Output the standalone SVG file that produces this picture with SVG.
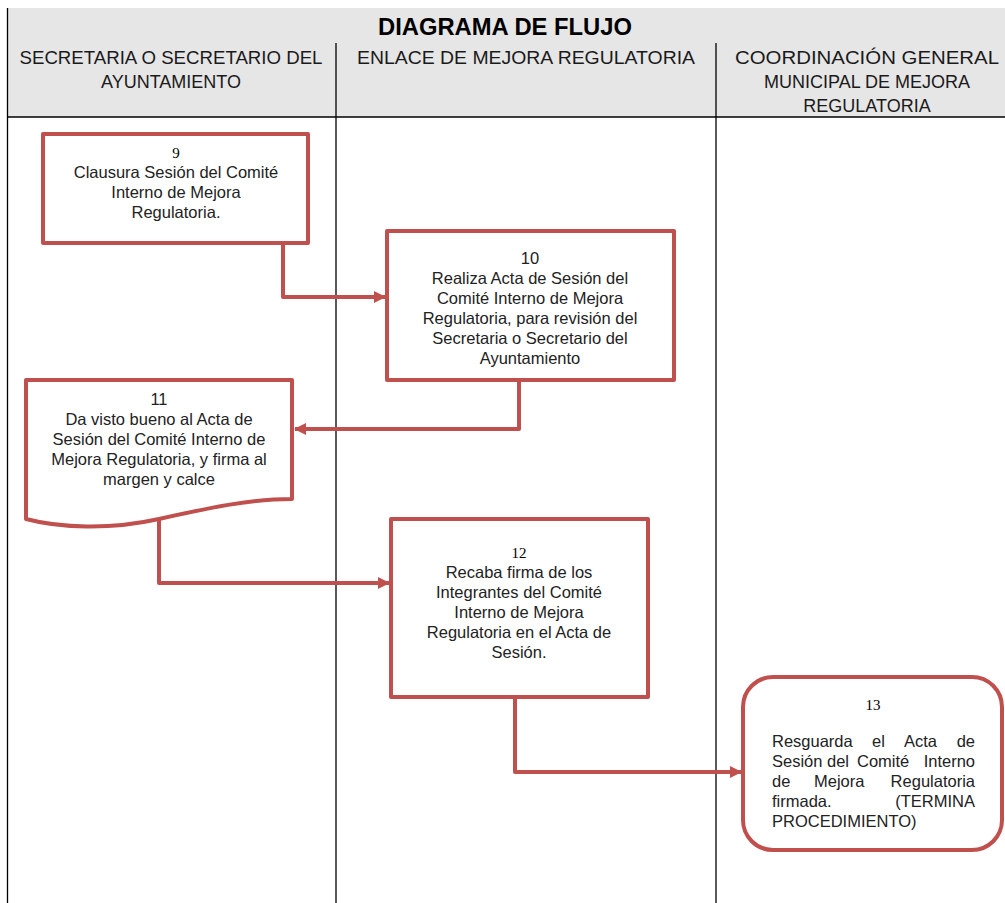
<svg xmlns="http://www.w3.org/2000/svg" width="1005" height="903" viewBox="0 0 1005 903">
<style>
.hdr{font-family:"Liberation Sans",Arial,sans-serif;font-size:18px;fill:#1a1a1a;text-anchor:middle}
.ttl{font-family:"Liberation Sans",Arial,sans-serif;font-size:24px;font-weight:bold;fill:#000;text-anchor:middle}
.box{fill:#fff;stroke:#C0504D;stroke-width:4;stroke-linejoin:round}
.t{font-family:"Liberation Sans",Arial,sans-serif;font-size:16.5px;fill:#222;text-anchor:middle}
.tl{font-family:"Liberation Sans",Arial,sans-serif;font-size:16.5px;fill:#222}
.tr{font-family:"Liberation Sans",Arial,sans-serif;font-size:16.5px;fill:#222;text-anchor:end}
.n{font-family:"Liberation Serif","Times New Roman",serif;font-size:15px;fill:#000;text-anchor:middle}
.con{fill:none;stroke:#C0504D;stroke-width:4;stroke-linejoin:round}
.grid{stroke:#000;stroke-width:1.3}
</style>
<defs>
<marker id="arr" viewBox="0 0 12 12" refX="11" refY="6" markerWidth="12" markerHeight="12" markerUnits="userSpaceOnUse" orient="auto">
<path d="M0,0 L12,6 L0,12 Z" fill="#C0504D"/>
</marker>
</defs>
<rect width="1005" height="903" fill="#fff"/>
<g id="header">
<rect x="7" y="8" width="998" height="109" fill="#e6e6e6"/>
<text class="ttl" x="505" y="35" textLength="254" lengthAdjust="spacingAndGlyphs">DIAGRAMA DE FLUJO</text>
<text class="hdr" x="171" y="64" textLength="303" lengthAdjust="spacingAndGlyphs">SECRETARIA O SECRETARIO DEL</text>
<text class="hdr" x="171" y="88">AYUNTAMIENTO</text>
<text class="hdr" x="526" y="64" textLength="338" lengthAdjust="spacingAndGlyphs">ENLACE DE MEJORA REGULATORIA</text>
<text class="hdr" x="867" y="64" textLength="264" lengthAdjust="spacingAndGlyphs">COORDINACIÓN GENERAL</text>
<text class="hdr" x="867" y="88">MUNICIPAL DE MEJORA</text>
<text class="hdr" x="867" y="112">REGULATORIA</text>
</g>
<g id="grid">
<line class="grid" x1="7.5" y1="8" x2="7.5" y2="903"/>
<line class="grid" x1="7" y1="117" x2="1005" y2="117"/>
<line class="grid" x1="336" y1="43" x2="336" y2="903"/>
<line class="grid" x1="716" y1="43" x2="716" y2="903"/>
</g>
<g id="connectors">
<path class="con" d="M283,243 V297 H385" marker-end="url(#arr)"/>
<path class="con" d="M519,380 V429 H295" marker-end="url(#arr)"/>
<path class="con" d="M159,519 V583 H389" marker-end="url(#arr)"/>
<path class="con" d="M515,697 V772 H741" marker-end="url(#arr)"/>
</g>
<g id="node9">
<rect class="box" x="43" y="134" width="265" height="109"/>
<text class="n" x="176" y="158">9</text>
<text class="t" x="176" y="178">Clausura Sesión del Comité</text>
<text class="t" x="176" y="198">Interno de Mejora</text>
<text class="t" x="176" y="218">Regulatoria.</text>
</g>
<g id="node10">
<rect class="box" x="387" y="231" width="287" height="149"/>
<text class="t" x="530" y="264">10</text>
<text class="t" x="530" y="284">Realiza Acta de Sesión del</text>
<text class="t" x="530" y="304">Comité Interno de Mejora</text>
<text class="t" x="530" y="324">Regulatoria, para revisión del</text>
<text class="t" x="530" y="344">Secretaria o Secretario del</text>
<text class="t" x="530" y="364">Ayuntamiento</text>
</g>
<g id="node11">
<path class="box" d="M26,380 H292 V499 C250,499 208,508 159,519 C110,530 60,528 26,519 Z"/>
<text class="t" x="159" y="405">11</text>
<text class="t" x="159" y="425">Da visto bueno al Acta de</text>
<text class="t" x="159" y="445">Sesión del Comité Interno de</text>
<text class="t" x="159" y="465">Mejora Regulatoria, y firma al</text>
<text class="t" x="159" y="485">margen y calce</text>
</g>
<g id="node12">
<rect class="box" x="391" y="519" width="257" height="178"/>
<text class="n" x="519" y="558">12</text>
<text class="t" x="519" y="578">Recaba firma de los</text>
<text class="t" x="519" y="598">Integrantes del Comité</text>
<text class="t" x="519" y="618">Interno de Mejora</text>
<text class="t" x="519" y="638">Regulatoria en el Acta de</text>
<text class="t" x="519" y="658">Sesión.</text>
</g>
<g id="node13">
<rect class="box" x="743" y="677" width="259" height="173" rx="30" ry="30"/>
<text class="n" x="873" y="710">13</text>
<text class="tl" x="772" y="747">Resguarda</text>
<text class="tl" x="872" y="747">el</text>
<text class="tl" x="904" y="747">Acta</text>
<text class="tr" x="975" y="747">de</text>
<text class="tl" x="772" y="767">Sesión</text>
<text class="tl" x="827" y="767">del</text>
<text class="tl" x="857" y="767">Comité</text>
<text class="tr" x="975" y="767">Interno</text>
<text class="tl" x="772" y="787">de</text>
<text class="tl" x="814" y="787">Mejora</text>
<text class="tr" x="975" y="787">Regulatoria</text>
<text class="tl" x="772" y="807">firmada.</text>
<text class="tr" x="975" y="807">(TERMINA</text>
<text class="tl" x="772" y="827">PROCEDIMIENTO)</text>
</g>
</svg>
